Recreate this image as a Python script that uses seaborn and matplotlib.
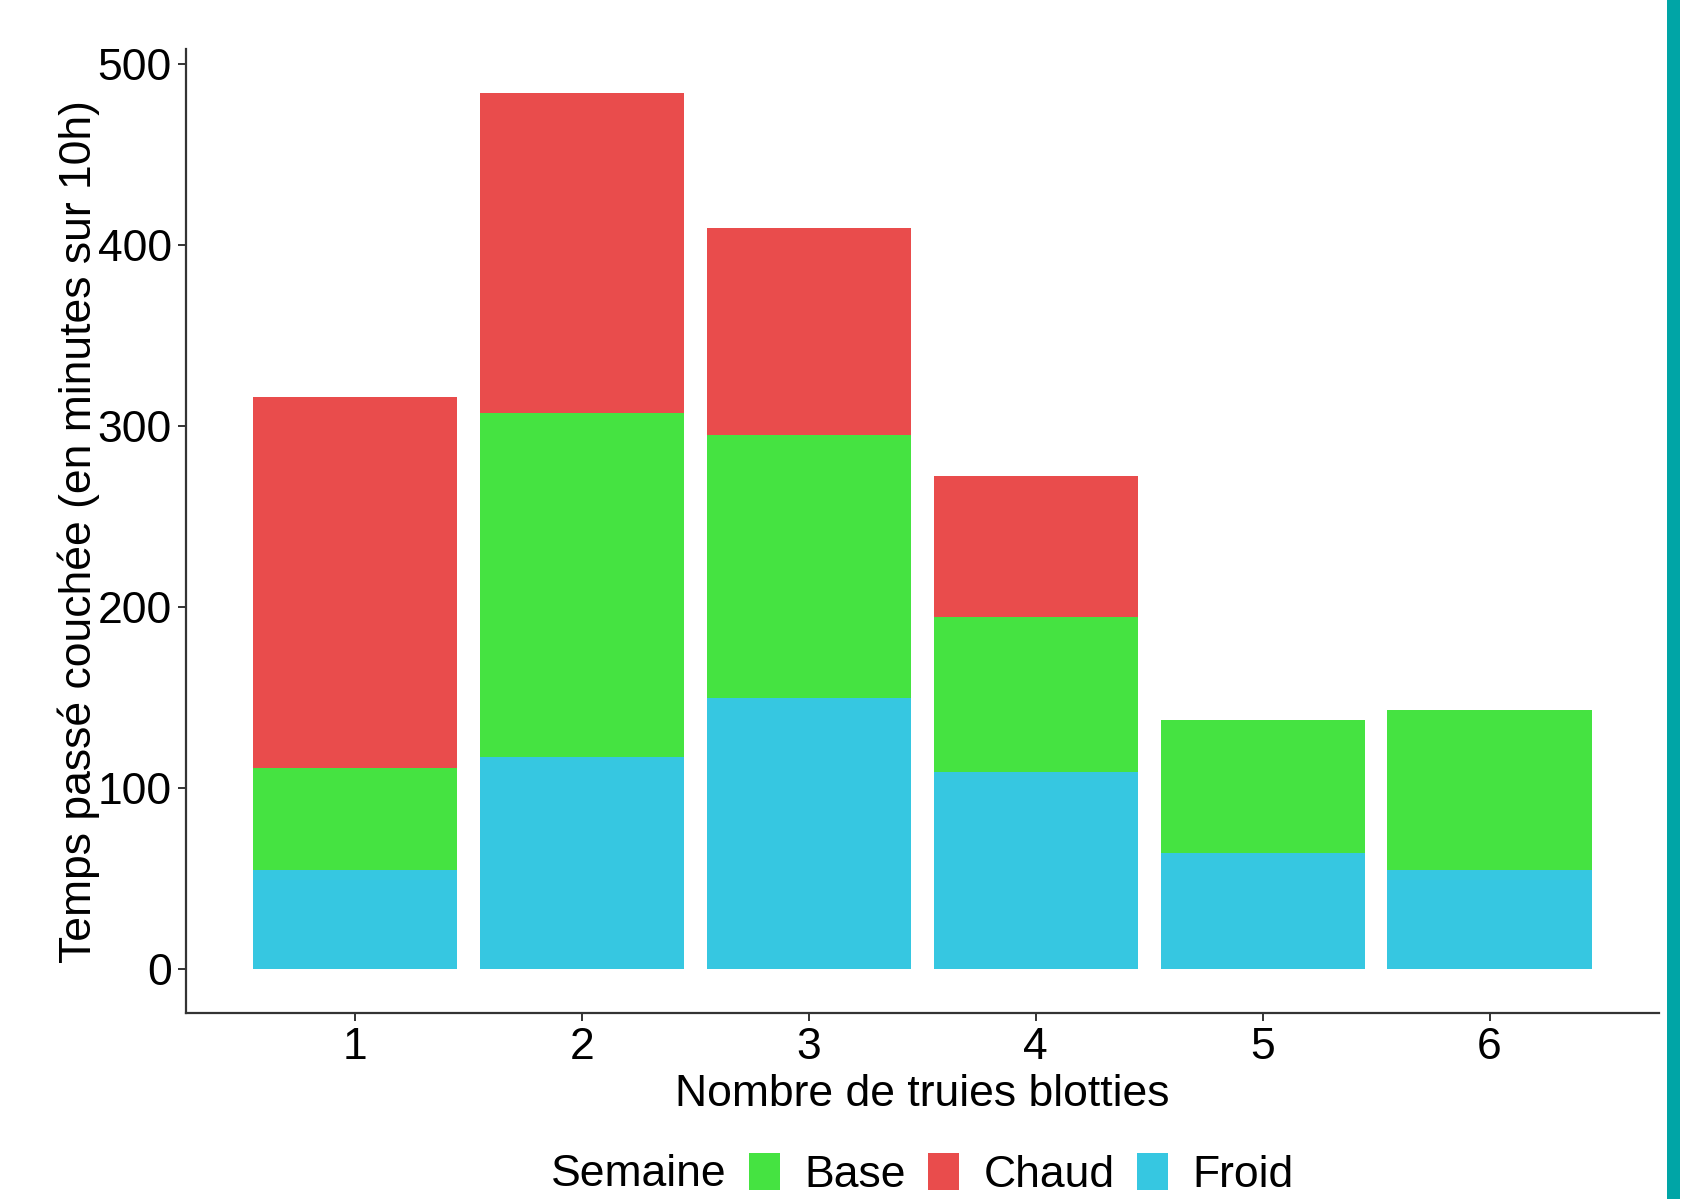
import numpy as np
import pandas as pd
import matplotlib
matplotlib.use("Agg")
import matplotlib.pyplot as plt
from matplotlib.patches import Patch, Rectangle
import seaborn as sns

sns.set_theme(style="ticks")
plt.rcParams['font.family'] = ['Liberation Sans', 'DejaVu Sans']
plt.rcParams['text.color'] = 'black'

# Data (minutes per segment)
truies = [1, 2, 3, 4, 5, 6]
froid = [55, 117, 150, 109, 64, 55]
base = [56, 190, 145, 85.5, 73.5, 88]
chaud = [205, 177, 114, 78, 0, 0]

semaines = ['Base', 'Chaud', 'Froid']
couleurs = {'Base': '#45E341', 'Chaud': '#E94C4C', 'Froid': '#36C7E1'}

df = pd.DataFrame({'truies': truies, 'Froid': froid, 'Base': base, 'Chaud': chaud})

fig = plt.figure(figsize=(17.03, 11.99), dpi=100)
ax = fig.add_axes([0.109, 0.155, 0.865, 0.804])

# Stack: Froid at bottom, then Base, then Chaud on top
bottom = np.zeros(len(df))
for s in ['Froid', 'Base', 'Chaud']:
    sns.barplot(data=df, x='truies', y=s, color=couleurs[s], native_scale=True,
                width=0.9, errorbar=None, bottom=bottom, linewidth=0,
                saturation=1, ax=ax)
    bottom = bottom + df[s].values

ax.set_xlim(0.255, 6.745)
ax.set_ylim(-24.2, 508)
ax.set_xticks(truies)
ax.set_yticks([0, 100, 200, 300, 400, 500])
sns.despine(ax=ax)
for sp in ['left', 'bottom']:
    ax.spines[sp].set_color('#333333')
    ax.spines[sp].set_linewidth(1.6)
ax.tick_params(axis='both', labelsize=32, colors='#333333', length=6, width=1.4,
               labelcolor='black', pad=4)

ax.set_xlabel('Nombre de truies blotties', fontsize=32, color='black', labelpad=4)
ax.set_ylabel('Temps passé couchée (en minutes sur 10h)', fontsize=32,
              color='black', labelpad=-2)

# Legend at the bottom, title inline
fig.text(551 / 1703, 0.0205, 'Semaine', fontsize=32, va='center', ha='left')
handles = [Patch(facecolor=couleurs[s], edgecolor='none') for s in semaines]
fig.legend(handles, semaines, loc='center left', bbox_to_anchor=(749 / 1703, 0.0205),
           ncol=3, frameon=False, fontsize=32, handlelength=0.7,
           handleheight=0.9, handletextpad=0.55, columnspacing=0.5,
           borderpad=0, borderaxespad=0, labelcolor='black')

# Teal bar on the right edge
fig.add_artist(Rectangle((1667 / 1703, 0), 13 / 1703, 1, transform=fig.transFigure,
                         facecolor='#00A5A6', edgecolor='none'))

fig.savefig('out.png', dpi=100)
